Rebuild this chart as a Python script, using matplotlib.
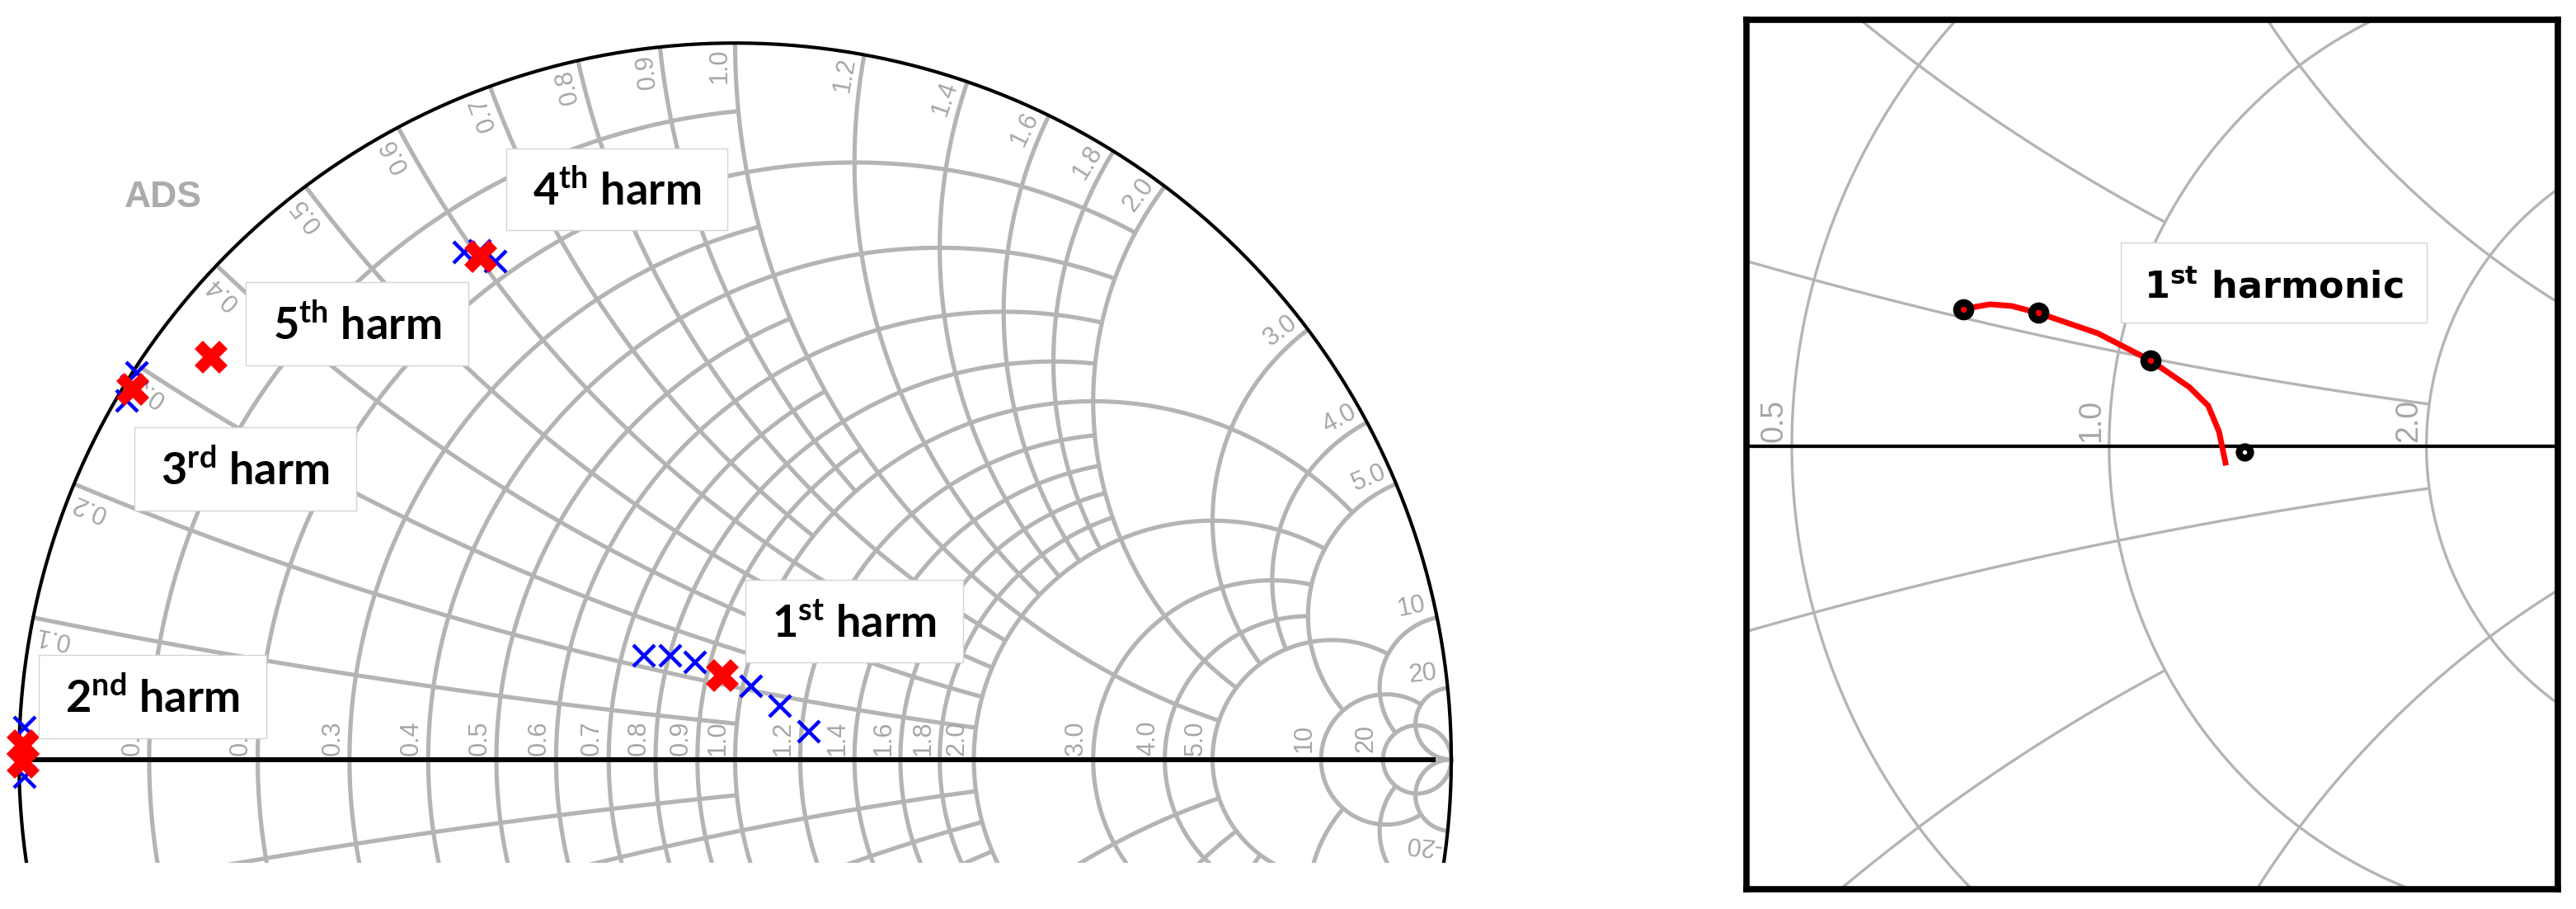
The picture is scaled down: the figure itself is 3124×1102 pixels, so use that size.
import numpy as np
import matplotlib.pyplot as plt
from matplotlib.patches import Rectangle

W, H, DPI = 3124, 1102, 100

# Smith chart grid: every value is used for a resistance circle and a reactance arc,
# each line stops when it reaches the matching limit on the other family
grid_values = [0.1, 0.2, 0.3, 0.4, 0.5, 0.6, 0.7, 0.8, 0.9, 1.0,
               1.2, 1.4, 1.6, 1.8, 2.0, 3.0, 4.0, 5.0, 10.0, 20.0]
grid_limits = [1, 2, 1, 2, 1, 2, 1, 2, 1, 5,
               2, 2, 2, 2, 5, 5, 5, 10, 20, np.inf]
grid_text = ['0.1', '0.2', '0.3', '0.4', '0.5', '0.6', '0.7', '0.8', '0.9', '1.0',
             '1.2', '1.4', '1.6', '1.8', '2.0', '3.0', '4.0', '5.0', '10', '20']

# coarse grid of the zoomed view
zoom_values = [0.2, 0.5, 1.0, 2.0]
zoom_limits = [2, 1, 5, 5]
zoom_text = ['0.2', '0.5', '1.0', '2.0']

# reflection coefficients of the harmonics (real, imag)
h1_sweep_re = [-0.1267, -0.0904, -0.0558, 0.0225, 0.0623, 0.1031]
h1_sweep_im = [0.1453, 0.1442, 0.1356, 0.1022, 0.0746, 0.0389]
h1_opt = [(-0.0178, 0.1170)]
h2_sweep_re = [-0.992, -0.992]
h2_sweep_im = [0.0446, -0.0245]
h2_opt = [(-0.9942, 0.0192), (-0.9942, -0.0038)]
h3_sweep_re = [-0.8353, -0.8423, -0.8492]
h3_sweep_im = [0.5397, 0.5213, 0.5006]
h3_opt = [(-0.8411, 0.5167)]
h4_sweep_re = [-0.3782, -0.3563, -0.3344]
h4_sweep_im = [0.7077, 0.7100, 0.6954]
h4_opt = [(-0.3552, 0.7021)]
h5_opt = [(-0.7317, 0.5613)]

# zoomed view: fundamental load trajectory
fund_re = [-0.1532, -0.1250, -0.1024, -0.0741, -0.0118, 0.0437, 0.0844, 0.1041, 0.1155, 0.1228]
fund_im = [0.1442, 0.1491, 0.1473, 0.1399, 0.1186, 0.0900, 0.0620, 0.0425, 0.0152, -0.0202]
fund_marks = [0, 3, 5]
fund_start = (0.1421, -0.0062)

harm_num = ['1', '2', '3', '4', '5']
harm_sup = ['st', 'nd', 'rd', 'th', 'th']
# label boxes in pixels: left, top, width, height
harm_box = [(904, 703, 264, 100), (47, 794, 276, 101), (163, 518, 269, 101),
            (614, 180, 268, 99), (298, 342, 270, 101)]
zoom_box = (2572, 294, 371, 97)

GRID = '#b4b4b4'
LABEL = '#a6a6a6'


def gamma(r, x):
    z = r + 1j * x
    return (z - 1) / (z + 1)


def draw_grid(ax, values, limits, lw):
    for v, lim in zip(values, limits):
        # resistance circle
        u = np.linspace(-np.arctan(lim), np.arctan(lim), 900)
        g = gamma(v, np.tan(u))
        ax.plot(g.real, g.imag, color=GRID, lw=lw, zorder=1, solid_capstyle='butt')
        # reactance arcs
        u = np.linspace(0, np.arctan(lim), 900)
        for s in (1, -1):
            g = gamma(np.tan(u), s * v)
            ax.plot(g.real, g.imag, color=GRID, lw=lw, zorder=1, solid_capstyle='butt')
    ax.plot([-1, 1], [0, 0], color=GRID, lw=lw, zorder=1)


fig = plt.figure(figsize=(W / DPI, H / DPI), dpi=DPI)

# ---- full Smith chart (upper half) ----
cx, cy, R = 891.5, 920.7, 868.5
bottom_px = 1046
ax = fig.add_axes([0, (H - bottom_px) / H, 1800 / W, bottom_px / H])
ax.set_xlim(-cx / R, (1800 - cx) / R)
ax.set_ylim(-(bottom_px - cy) / R, cy / R)
ax.axis('off')

draw_grid(ax, grid_values, grid_limits, 3.7)

t = np.linspace(0, 2 * np.pi, 1000)
ax.plot(np.cos(t), np.sin(t), color='black', lw=3.0, zorder=3)
ax.plot([-1, 0.975], [0, 0], color='black', lw=4.3, zorder=3)

lab = dict(color=LABEL, fontsize=22, family='Liberation Sans', ha='center', va='center', zorder=2)
for v, s in zip(grid_values, grid_text):
    c = (v - 1) / (v + 1)
    ax.text(c - 0.0235, 0.030, s, rotation=90, **lab)
    g = gamma(0, v)
    p = g * (1 - 0.032) + 1j * g * 0.022
    ax.text(p.real, p.imag, s, rotation=np.degrees(np.angle(g)), **lab)
    g = gamma(0, -v)
    p = g * (1 - 0.032) - 1j * g * 0.022
    if p.imag > ax.get_ylim()[0] + 0.02:
        ax.text(p.real, p.imag, '-' + s, rotation=np.degrees(np.angle(g)) + 180, **lab)

ax.text(-0.7985, 0.7838, 'ADS', color='#9c9c9c', fontsize=32, family='Liberation Sans',
        fontweight='bold', alpha=0.85, ha='center', va='center')

blue = dict(ls='none', marker='x', color='#0000ff', ms=19, mew=3.2, zorder=4)
red = dict(ls='none', marker='X', color='#ff0000', mec='#ff0000', ms=29, mew=0, zorder=5)
for re_, im_ in [(h1_sweep_re, h1_sweep_im), (h2_sweep_re, h2_sweep_im),
                 (h3_sweep_re, h3_sweep_im), (h4_sweep_re, h4_sweep_im)]:
    ax.plot(re_, im_, **blue)
for pts in [h1_opt, h2_opt, h3_opt, h4_opt, h5_opt]:
    ax.plot([p[0] for p in pts], [p[1] for p in pts], **red)

# ---- zoomed view around the fundamental ----
zx0, zx1, zy0, zy1 = 2118, 3102, 24, 1078
zcx, zcy, zs = 2557.8, 541.0, 1154.4
ax2 = fig.add_axes([zx0 / W, (H - zy1) / H, (zx1 - zx0) / W, (zy1 - zy0) / H])
ax2.set_xlim((zx0 - zcx) / zs, (zx1 - zcx) / zs)
ax2.set_ylim(-(zy1 - zcy) / zs, (zcy - zy0) / zs)
ax2.set_xticks([])
ax2.set_yticks([])
for sp in ax2.spines.values():
    sp.set_linewidth(5.5)
    sp.set_color('black')

draw_grid(ax2, zoom_values, zoom_limits, 2.4)
ax2.axhline(0, color='black', lw=3.0, zorder=3)
for v, s in zip(zoom_values, zoom_text):
    c = (v - 1) / (v + 1)
    if c > ax2.get_xlim()[0]:
        ax2.text(c - 0.019, 0.027, s, rotation=90, color=LABEL, fontsize=27,
                 family='Liberation Sans', ha='center', va='center', zorder=2)

ax2.plot(fund_re, fund_im, color='#ff0000', lw=5.0, zorder=4, solid_capstyle='butt')
ax2.plot([fund_re[i] for i in fund_marks], [fund_im[i] for i in fund_marks], ls='none',
         marker='o', ms=12, mfc='#ff0000', mec='black', mew=6.5, zorder=5)
ax2.plot([fund_start[0]], [fund_start[1]], ls='none', marker='o', ms=10, mfc='white',
         mec='black', mew=6.0, zorder=5)


# ---- text boxes ----
def label_box(box, text, family, size):
    x, y, w, h = box
    fig.add_artist(Rectangle((x / W, 1 - (y + h) / H), w / W, h / H, transform=fig.transFigure,
                             facecolor='white', edgecolor='#d4d4d4', lw=1.0, zorder=6))
    fig.text((x + w / 2) / W, 1 - (y + 0.695 * h) / H, text, ha='center', va='baseline',
             family=family, fontweight='bold', fontsize=size, color='black', zorder=7)


for n, s, b in zip(harm_num, harm_sup, harm_box):
    label_box(b, r'$\mathdefault{%s^{%s}}$ harm' % (n, s), 'Lato', 39)
label_box(zoom_box, r'$\mathdefault{1^{st}}$ harmonic', 'DejaVu Sans', 32)

fig.savefig('out.png', dpi=DPI, facecolor='white')
